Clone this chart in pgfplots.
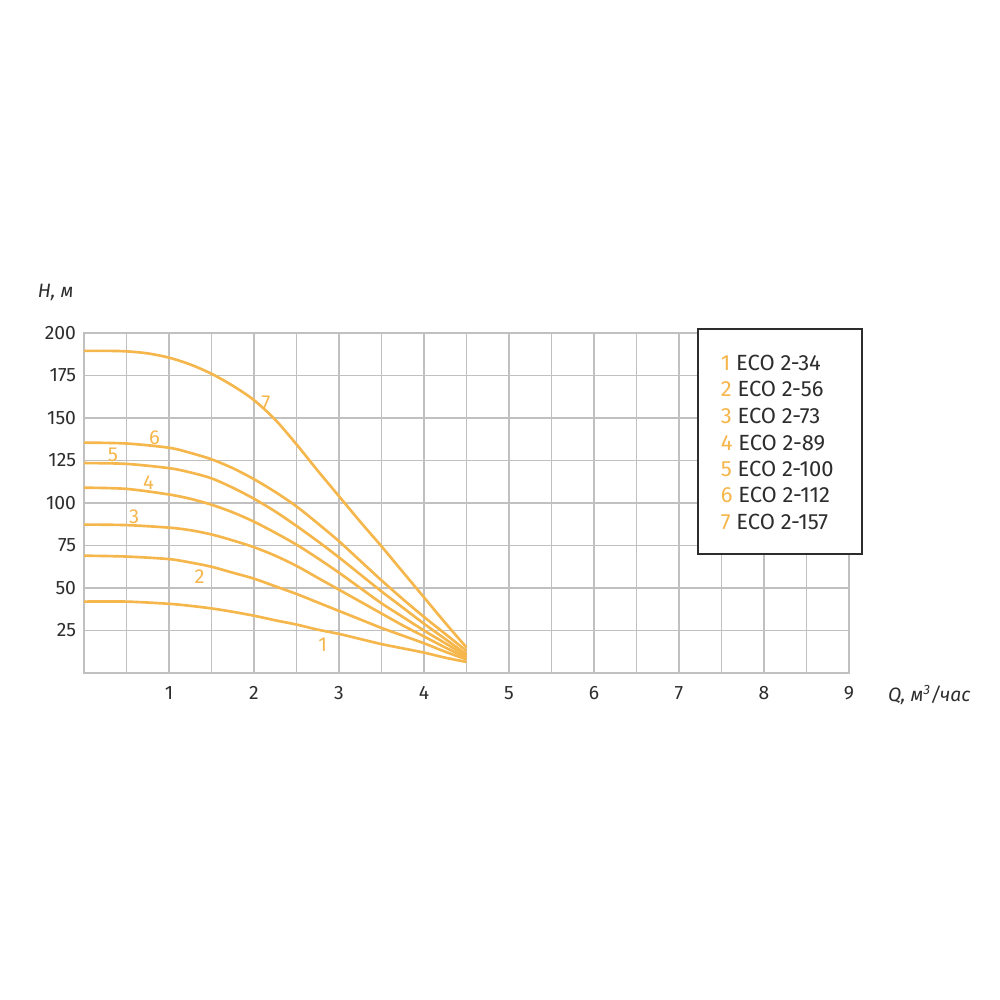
\documentclass[border=0pt]{standalone}
\usepackage{fontspec}
\setmainfont{Fira Sans}
\usepackage{pgfplots}
\pgfplotsset{compat=1.18}
\definecolor{curve}{RGB}{245,182,75}
\definecolor{gridgray}{RGB}{192,192,192}
\definecolor{txt}{RGB}{45,45,45}
\tikzset{qh/.style={curve, line width=1.5pt, smooth, no markers}}

\begin{document}
\begin{tikzpicture}
  \begin{axis}[
    scale only axis,
    width=15.3cm, height=6.8cm,
    xmin=0, xmax=9, ymin=0, ymax=200,
    xtick={1,...,9},
    minor xtick={0.5,1.5,...,8.5},
    ytick={25,50,...,200},
    grid=both,
    grid style={gridgray, line width=1.1pt},
    minor grid style={gridgray, line width=1.1pt},
    axis line style={gridgray, line width=1.1pt},
    tick style={draw=none},
    tick label style={font=\fontsize{11}{12}\selectfont, text=txt},
    /pgf/number format/assume math mode=true,
    xticklabel style={yshift=-4pt},
    yticklabel style={xshift=-1pt},
    clip=false,
  ]
    % 1  ECO 2-34
    \addplot[qh] coordinates {
      (0,42) (0.5,42) (1,40.7) (1.25,39.5) (1.5,38) (1.75,36) (2,33.7) (2.25,31)
      (2.5,28.5) (2.75,25.5) (3,23) (3.25,20) (3.5,17) (3.75,14.5) (4,12) (4.25,9) (4.5,6.5)};
    % 2  ECO 2-56
    \addplot[qh] coordinates {
      (0,69) (0.5,68.5) (1,67) (1.25,65) (1.5,62.5) (1.75,59) (2,55.5) (2.25,51)
      (2.5,46.5) (2.75,41.5) (3,36.5) (3.25,31.5) (3.5,26.5) (3.75,22) (4,17.5) (4.25,12.5) (4.5,8)};
    % 3  ECO 2-73
    \addplot[qh] coordinates {
      (0,87.3) (0.5,87) (1,85.5) (1.25,84) (1.5,81.5) (1.75,78) (2,74) (2.25,69)
      (2.5,63) (2.75,56) (3,49) (3.25,42) (3.5,35) (3.75,28) (4,21.5) (4.25,15) (4.5,9)};
    % 4  ECO 2-89
    \addplot[qh] coordinates {
      (0,109) (0.5,108.3) (1,105) (1.25,102.5) (1.5,99) (1.75,94.5) (2,89) (2.25,82.5)
      (2.5,75.5) (2.75,67.5) (3,59) (3.25,50) (3.5,41) (3.75,33) (4,25) (4.25,17.5) (4.5,10)};
    % 5  ECO 2-100
    \addplot[qh] coordinates {
      (0,123.5) (0.5,123) (1,120.5) (1.25,118) (1.5,114.5) (1.75,109) (2,102.5) (2.25,95)
      (2.5,86.5) (2.75,77.5) (3,68) (3.25,58) (3.5,48) (3.75,38.5) (4,29) (4.25,20) (4.5,11)};
    % 6  ECO 2-112
    \addplot[qh] coordinates {
      (0,135.5) (0.5,135) (1,132.5) (1.25,129.5) (1.5,125.7) (1.75,120.5) (2,114) (2.25,106.5)
      (2.5,98) (2.75,88) (3,77.5) (3.25,66) (3.5,54.5) (3.75,43.5) (4,33) (4.25,23) (4.5,13)};
    % 7  ECO 2-157
    \addplot[qh] coordinates {
      (0,189.5) (0.25,189.5) (0.5,189.2) (0.75,188) (1,185.5) (1.25,181.5) (1.5,176) (1.75,169)
      (2,160.5) (2.25,149) (2.5,134.5) (2.75,119) (3,104) (3.25,89) (3.5,74.5) (3.75,59.5)
      (4,44.5) (4.25,29.5) (4.5,15)};

    % curve numbers
    \begin{scope}[every node/.style={text=curve, font=\fontsize{11.5}{12}\selectfont}]
      \node at (axis cs:2.81,16.5) {1};
      \node at (axis cs:1.36,56.6) {2};
      \node at (axis cs:0.59,92) {3};
      \node at (axis cs:0.76,112) {4};
      \node at (axis cs:0.34,128.6) {5};
      \node at (axis cs:0.83,138.6) {6};
      \node at (axis cs:2.14,158.7) {7};
    \end{scope}

    % legend box
    \filldraw[fill=white, draw=txt, line width=1.1pt]
      (rel axis cs:0.803,1.012) rectangle (rel axis cs:1.017,0.35);
    \begin{scope}[every node/.style={anchor=west, text=txt, font=\fontsize{12.5}{13}\selectfont, inner sep=0pt}]
      \node at (rel axis cs:0.832,0.912) {\textcolor{curve}{1} ECO 2-34};
      \node at (rel axis cs:0.832,0.835) {\textcolor{curve}{2} ECO 2-56};
      \node at (rel axis cs:0.832,0.756) {\textcolor{curve}{3} ECO 2-73};
      \node at (rel axis cs:0.832,0.676) {\textcolor{curve}{4} ECO 2-89};
      \node at (rel axis cs:0.832,0.600) {\textcolor{curve}{5} ECO 2-100};
      \node at (rel axis cs:0.832,0.524) {\textcolor{curve}{6} ECO 2-112};
      \node at (rel axis cs:0.832,0.444) {\textcolor{curve}{7} ECO 2-157};
    \end{scope}

    % axis titles
    \node[text=txt, font=\itshape\fontsize{11}{12}\selectfont] at (rel axis cs:-0.037,1.12) {H, м};
    \node[anchor=west, text=txt, font=\itshape\fontsize{11}{12}\selectfont] at (rel axis cs:1.043,-0.065) {Q, м\textsuperscript{3}/час};
    \coordinate (bl) at (rel axis cs:0,0);
  \end{axis}
  % page = 1000 x 1000 px, 1 px = 0.02 cm
  \pgfresetboundingbox
  \path[use as bounding box] ([shift={(-1.68cm,-6.54cm)}]bl) rectangle ++(20cm,20cm);
\end{tikzpicture}
\end{document}
